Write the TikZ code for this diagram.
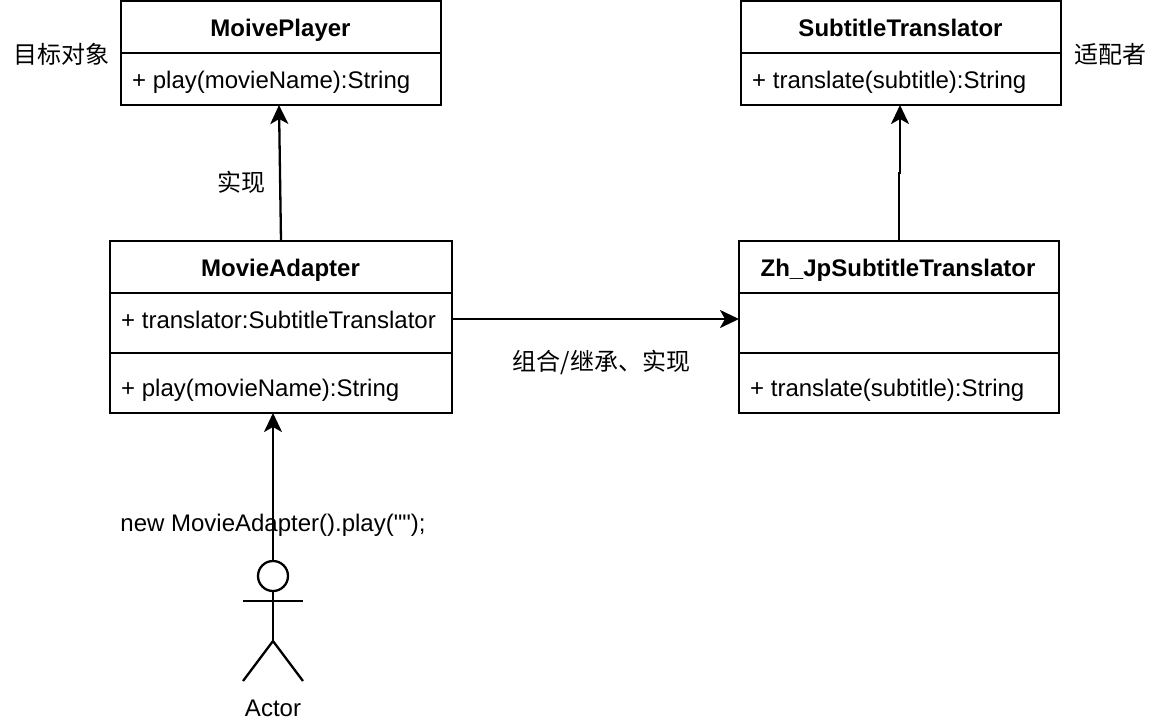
\documentclass[tikz,border=0pt]{standalone}
\usepackage{fontspec}
\newfontfamily\arialfam{Liberation Sans}
\newfontfamily\cjk{Noto Sans CJK SC}
\usetikzlibrary{arrows.meta}
\tikzset{
  classbox/.style={draw=black,line width=2.3pt,fill=white,outer sep=0pt,inner sep=0pt},
  divider/.style={draw=black,line width=2.3pt},
  conn/.style={draw=black,line width=2.3pt,-{Stealth[length=19pt,width=18pt,inset=5pt]}},
  limb/.style={draw=black,line width=2.3pt},
  title/.style={anchor=base,inner sep=0pt,font=\fontsize{24}{28}\selectfont\arialfam\bfseries},
  member/.style={anchor=base west,inner sep=0pt,font=\fontsize{24}{28}\selectfont\arialfam},
  plain/.style={anchor=base,inner sep=0pt,font=\fontsize{24}{28}\selectfont\arialfam},
  note/.style={anchor=center,inner sep=0pt,font=\fontsize{24}{28}\selectfont\cjk},
}
\begin{document}
\begin{tikzpicture}[x=1pt,y=-1pt]
\useasboundingbox (0,0) rectangle (1162,724);
\fill[white] (0,0) rectangle (1162,724);
% class boxes
\node[classbox,minimum width=320pt,minimum height=104pt] (player) at (281,53) {};
\node[classbox,minimum width=320pt,minimum height=104pt] (translator) at (901,53) {};
\node[classbox,minimum width=342pt,minimum height=172pt] (adapter) at (281,327) {};
\node[classbox,minimum width=320pt,minimum height=172pt] (zh) at (899,327) {};
% dividers
\draw[divider] (player.west |- 0,53) -- (player.east |- 0,53);
\draw[divider] (translator.west |- 0,53) -- (translator.east |- 0,53);
\draw[divider] (adapter.west |- 0,293) -- (adapter.east |- 0,293);
\draw[divider] (adapter.west |- 0,353) -- (adapter.east |- 0,353);
\draw[divider] (zh.west |- 0,293) -- (zh.east |- 0,293);
\draw[divider] (zh.west |- 0,353) -- (zh.east |- 0,353);
% class text
\node[title] (t1) at (280.5,36) {MoivePlayer};
\node[member] (m1) at (132,88) {+ play(movieName):String};
\node[title] (t2) at (900.5,36) {SubtitleTranslator};
\node[member] (m2) at (752,88) {+ translate(subtitle):String};
\node[title] (t3) at (280.5,276) {MovieAdapter};
\node[member] (m3) at (121,328) {+ translator:SubtitleTranslator};
\node[member] (m4) at (121,396) {+ play(movieName):String};
\node[title] (t4) at (898,276) {Zh\_JpSubtitleTranslator};
\node[member] (m5) at (750,396) {+ translate(subtitle):String};
% free labels
\node[note] (n1) at (61,54) {目标对象};
\node[note] (n2) at (1110,54) {适配者};
\node[note] (n3) at (241,182) {实现};
\node[note] (n4) at (601.5,362) {组合/继承、实现};
\node[plain] (n5) at (273,531) {new MovieAdapter().play("");};
\node[plain] (n6) at (273,716) {Actor};
% actor
\node[draw=black,line width=2.3pt,circle,minimum size=30pt,inner sep=0pt,outer sep=0pt] (head) at (273,576) {};
\coordinate (hip) at (273,641);
\coordinate (armL) at (243,601);
\coordinate (armR) at (303,601);
\coordinate (footL) at (243,681);
\coordinate (footR) at (303,681);
\draw[limb] (head.south) -- (hip);
\draw[limb] (armL) -- (armR);
\draw[limb] (footL) -- (hip) -- (footR);
% connectors
\draw[conn] (adapter.north) -- ([xshift=-2pt]player.south);
\coordinate (jog) at (900,173);
\draw[conn] (zh.north) -- (899,173) -- (jog) -- (translator.south -| jog);
\draw[conn] ([yshift=8pt]adapter.east) -- ([yshift=8pt]zh.west);
\draw[conn] (head.north) -- (head.north |- adapter.south);
\end{tikzpicture}
\end{document}
